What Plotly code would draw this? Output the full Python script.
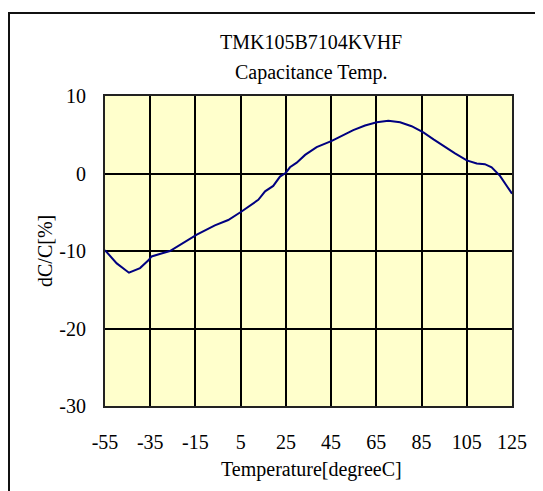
import plotly.graph_objects as go

temps = [-55, -49.8, -44.4, -39.5, -35.8, -34.4, -26.3, -14.4, -6.4, -0.5, 5.4, 12.8, 15.8, 19.4,
         22.4, 25, 26.8, 29.8, 33.5, 38.6, 45.3, 50.4, 54.8, 60, 65.2, 70.3, 75.5, 80.6, 85.8,
         90.3, 95.4, 99.8, 105, 109.4, 113, 116, 119.7, 125]
dcc = [-9.9, -11.6, -12.8, -12.2, -11.2, -10.7, -10.0, -7.9, -6.7, -6.0, -4.9, -3.4, -2.3, -1.6,
       -0.4, 0.1, 0.8, 1.4, 2.4, 3.4, 4.2, 5.0, 5.6, 6.2, 6.6, 6.8, 6.6, 6.1, 5.3,
       4.4, 3.4, 2.6, 1.7, 1.3, 1.2, 0.8, -0.3, -2.6]
x_ticks = [-55, -35, -15, 5, 25, 45, 65, 85, 105, 125]
y_ticks = [-30, -20, -10, 0, 10]
title_lines = ["TMK105B7104KVHF", "Capacitance Temp."]
x_title = "Temperature[degreeC]"
y_title = "dC/C[%]"

OFF = 8  # default page body margin
W, H = 543 - OFF, 491 - OFF
L, R, T, B = 105 - OFF, 31, 96 - OFF, 491 - 406
pw, ph = W - L - R, H - T - B
FONT = "Liberation Serif"
FS = 20

def px(xp):
    return (xp - OFF - L) / pw

def py(yp):
    return (H - B - (yp - OFF)) / ph

fig = go.Figure()
fig.add_trace(go.Scatter(x=temps, y=dcc, mode="lines",
                         line=dict(color="#000080", width=2), showlegend=False,
                         hoverinfo="skip"))

fig.update_layout(
    width=W, height=H,
    margin=dict(l=L, r=R, t=T, b=B),
    paper_bgcolor="white",
    plot_bgcolor="#FFFFCC",
    font=dict(family=FONT, size=FS, color="black"),
    xaxis=dict(range=[-55, 125], tickvals=x_ticks, ticktext=[str(v) for v in x_ticks],
               showgrid=True, gridcolor="black", gridwidth=1.5, zeroline=False,
               showline=True, linecolor="#222", linewidth=2, mirror=True,
               ticks="outside", ticklen=17, tickcolor="rgba(0,0,0,0)",
               tickfont=dict(family=FONT, size=FS)),
    yaxis=dict(range=[-30, 10], tickvals=y_ticks, ticktext=[str(v) for v in y_ticks],
               showgrid=True, gridcolor="black", gridwidth=1.5, zeroline=False,
               showline=True, linecolor="#222", linewidth=2, mirror=True,
               ticks="outside", ticklen=13, tickcolor="rgba(0,0,0,0)",
               tickfont=dict(family=FONT, size=FS)),
)

# outer chart frame
fig.add_shape(type="rect", xref="paper", yref="paper",
              x0=px(9), x1=px(560), y0=py(520), y1=py(13),
              line=dict(color="#111", width=2), fillcolor="rgba(0,0,0,0)", layer="below")

fig.add_annotation(text=title_lines[0], xref="paper", yref="paper", x=px(311), y=py(42),
                   showarrow=False, xanchor="center", yanchor="middle",
                   font=dict(family=FONT, size=FS))
fig.add_annotation(text=title_lines[1], xref="paper", yref="paper", x=px(311), y=py(72),
                   showarrow=False, xanchor="center", yanchor="middle",
                   font=dict(family=FONT, size=FS))
fig.add_annotation(text=x_title, xref="paper", yref="paper", x=px(311), y=py(469),
                   showarrow=False, xanchor="center", yanchor="middle",
                   font=dict(family=FONT, size=FS))
fig.add_annotation(text=y_title, xref="paper", yref="paper", x=px(45), y=py(251),
                   showarrow=False, xanchor="center", yanchor="middle", textangle=-90,
                   font=dict(family=FONT, size=FS))

fig.write_html("out.html")
